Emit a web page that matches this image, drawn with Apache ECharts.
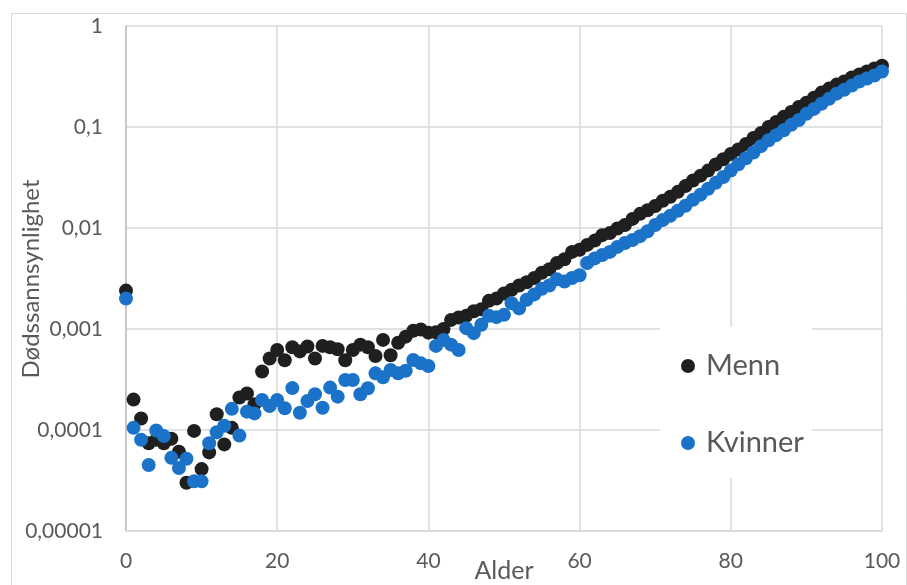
<!DOCTYPE html>
<html>
<head>
<meta charset="utf-8">
<script src="https://cdn.jsdelivr.net/npm/echarts@6/dist/echarts.min.js"></script>
<style>
  html, body { margin: 0; padding: 0; background: #fff; }
  #chart { width: 907px; height: 585px; }
</style>
</head>
<body>
<div id="chart"></div>
<script>
// Alder 0–100 år
const ages = Array.from({ length: 101 }, (_, i) => i);

// Dødssannsynlighet per alder, menn
const menn = [
  0.0024, 0.0002, 0.00013, 0.000074, 0.00008, 0.000074, 0.000082, 0.000061, 0.00003, 0.000098,
  0.000041, 0.00006, 0.000143, 0.000072, 0.000105, 0.00021, 0.00023, 0.00018, 0.00038, 0.00051,
  0.00062, 0.00049, 0.00066, 0.0006, 0.00067, 0.00051, 0.00068, 0.00066, 0.00063, 0.00049,
  0.00062, 0.0007, 0.00066, 0.00054, 0.00078, 0.00055, 0.00073, 0.00084, 0.00096, 0.00099,
  0.00092, 0.00093, 0.001, 0.00123, 0.0013, 0.00135, 0.0015, 0.00157, 0.0019, 0.002,
  0.00225, 0.00245, 0.0027, 0.0029, 0.0032, 0.0036, 0.0039, 0.0045, 0.0049, 0.0058,
  0.0061, 0.0068, 0.0075, 0.0085, 0.0089, 0.0099, 0.0107, 0.0123, 0.0138, 0.015,
  0.0165, 0.0186, 0.0204, 0.0228, 0.026, 0.0295, 0.033, 0.037, 0.0425, 0.048,
  0.054, 0.06, 0.068, 0.078, 0.087, 0.1, 0.112, 0.126, 0.141, 0.158,
  0.174, 0.195, 0.219, 0.24, 0.263, 0.282, 0.309, 0.331, 0.355, 0.38,
  0.405
];

// Dødssannsynlighet per alder, kvinner
const kvinner = [
  0.002, 0.000105, 0.00008, 0.000045, 0.000099, 0.000087, 0.000053, 0.000042, 0.000052, 0.000031,
  0.000031, 0.000074, 0.000095, 0.00011, 0.000162, 0.000088, 0.000152, 0.000146, 0.000198, 0.000173,
  0.000198, 0.000164, 0.00026, 0.000148, 0.000194, 0.000226, 0.000166, 0.000263, 0.000214, 0.000313,
  0.000313, 0.000226, 0.000259, 0.000364, 0.000333, 0.000393, 0.000364, 0.000386, 0.000493, 0.000457,
  0.00043, 0.00068, 0.00078, 0.0007, 0.00062, 0.00102, 0.00091, 0.0011, 0.00135, 0.00131,
  0.00138, 0.0018, 0.0016, 0.00195, 0.0022, 0.0025, 0.0027, 0.0031, 0.00295, 0.0032,
  0.0034, 0.0045, 0.005, 0.0054, 0.0058, 0.0065, 0.0071, 0.0076, 0.0083, 0.0093,
  0.0107, 0.012, 0.0132, 0.0148, 0.0166, 0.019, 0.0214, 0.0245, 0.028, 0.032,
  0.037, 0.0427, 0.049, 0.056, 0.0646, 0.074, 0.083, 0.093, 0.105, 0.117,
  0.135, 0.151, 0.17, 0.19, 0.214, 0.234, 0.257, 0.282, 0.302, 0.324,
  0.355
];

// Merkelapper for den logaritmiske y-aksen
const yTickLabels = ['0,00001', '0,0001', '0,001', '0,01', '0,1', '1'];

// Aksetitler
const xTitle = 'Alder';
const yTitle = 'Dødssannsynlighet';

const FONT = 'Lato';
const TEXT_COLOR = '#595959';
const GRID_COLOR = '#d9d9d9';

const chart = echarts.init(document.getElementById('chart'), null, { renderer: 'canvas' });

chart.setOption({
  animation: false,
  backgroundColor: '#ffffff',
  textStyle: { fontFamily: FONT },
  graphic: [
    {
      type: 'rect',
      left: 9, top: 11,
      shape: { x: 0, y: 0, width: 895, height: 590 },
      style: { fill: 'none', stroke: GRID_COLOR, lineWidth: 1 },
      silent: true,
      z: -1
    },
    {
      type: 'text',
      x: 504, y: 571,
      style: {
        text: xTitle, fill: TEXT_COLOR, font: '25px Lato',
        align: 'center', verticalAlign: 'middle'
      },
      silent: true
    },
    {
      type: 'text',
      x: 31, y: 279,
      rotation: Math.PI / 2,
      style: {
        text: yTitle, fill: TEXT_COLOR, font: '24px Lato',
        align: 'center', verticalAlign: 'middle'
      },
      silent: true
    }
  ],
  grid: {
    left: 126, right: 25, top: 26, bottom: 54,
    containLabel: false,
    outerBoundsMode: 'none'
  },
  legend: {
    orient: 'vertical',
    left: 660,
    top: 327,
    padding: [24, 8, 20, 21],
    backgroundColor: '#ffffff',
    itemWidth: 14,
    itemHeight: 14,
    itemGap: 47,
    icon: 'circle',
    textStyle: { fontFamily: FONT, fontSize: 29, color: TEXT_COLOR, lineHeight: 30, padding: [0, 0, 0, 6] },
    data: ['Menn', 'Kvinner']
  },
  xAxis: {
    type: 'value',
    min: 0,
    max: 100,
    interval: 20,
    axisLine: { show: true, lineStyle: { color: GRID_COLOR, width: 1.5 } },
    axisTick: { show: false },
    axisLabel: { fontFamily: FONT, fontSize: 21, color: TEXT_COLOR, margin: 20 },
    splitLine: { show: true, lineStyle: { color: GRID_COLOR, width: 1.5 } }
  },
  yAxis: {
    type: 'log',
    logBase: 10,
    min: 0.00001,
    max: 1,
    axisLine: { show: true, lineStyle: { color: '#bfbfbf', width: 1.5 } },
    axisTick: { show: false },
    axisLabel: {
      fontFamily: FONT, fontSize: 21, color: TEXT_COLOR, margin: 23,
      formatter: v => yTickLabels[Math.round(Math.log10(v)) + 5]
    },
    splitLine: { show: true, lineStyle: { color: GRID_COLOR, width: 1.5 } }
  },
  series: [
    {
      name: 'Menn',
      type: 'scatter',
      symbol: 'circle',
      symbolSize: 14,
      itemStyle: { color: '#1f1f1f', opacity: 1 },
      data: ages.map((a, i) => [a, menn[i]])
    },
    {
      name: 'Kvinner',
      type: 'scatter',
      symbol: 'circle',
      symbolSize: 14,
      itemStyle: { color: '#1b73c9', opacity: 1 },
      data: ages.map((a, i) => [a, kvinner[i]])
    }
  ]
});
</script>
</body>
</html>
